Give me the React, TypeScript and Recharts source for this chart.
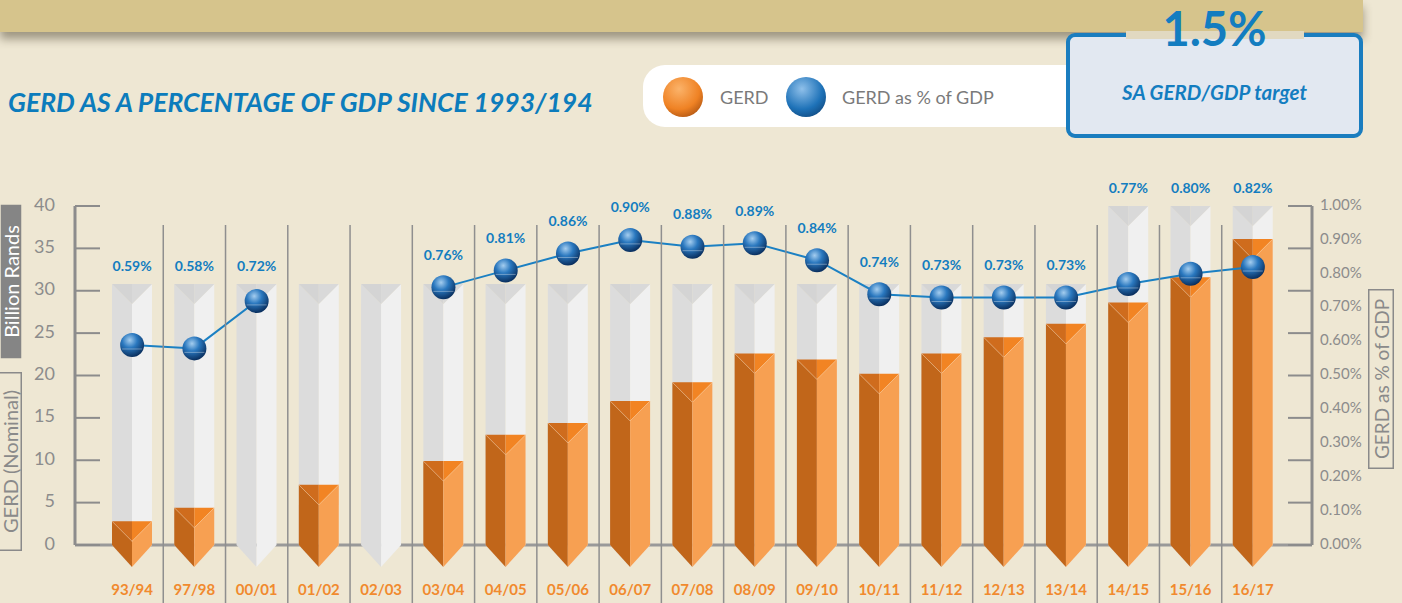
import React from 'react';
import { ComposedChart, Bar, Line, XAxis, YAxis, LabelList } from 'recharts';

// years shown on the x axis
const categories = ['93/94', '97/98', '00/01', '01/02', '02/03', '03/04', '04/05', '05/06', '06/07', '07/08',
  '08/09', '09/10', '10/11', '11/12', '12/13', '13/14', '14/15', '15/16', '16/17'];
// GERD, billion rands (nominal)
const gerd = [2.8, 4.4, null, 7.1, null, 9.9, 13.0, 14.4, 17.0, 19.2, 22.6, 21.9, 20.2, 22.6, 24.5, 26.1, 28.6, 31.6, 36.1];
// GERD as % of GDP
const gerdPct = [0.59, 0.58, 0.72, null, null, 0.76, 0.81, 0.86, 0.90, 0.88, 0.89, 0.84, 0.74, 0.73, 0.73, 0.73, 0.77, 0.80, 0.82];
// grey "empty pencil" behind each bar
const track = [30.8, 30.8, 30.8, 30.8, 30.8, 30.8, 30.8, 30.8, 30.8, 30.8, 30.8, 30.8, 30.8, 30.8, 30.8, 30.8, 40, 40, 40];

const randTicks = [0, 5, 10, 15, 20, 25, 30, 35, 40];
const pctTicks = [0, 0.1, 0.2, 0.3, 0.4, 0.5, 0.6, 0.7, 0.8, 0.9, 1.0];

const data = categories.map((cat, i) => ({ cat, gerd: gerd[i], pct: gerdPct[i], track: track[i] }));

const W = 1402;
const H = 453;
const M_TOP = 56;
const X_H = 58;
const PLOT_H = H - M_TOP - X_H;
const LEFT_W = 75;
const RIGHT_W = 90;
const PLOT_RIGHT = W - RIGHT_W;

const FONT = 'Lato, "Open Sans", sans-serif';
const BG = '#eee7d3';
const AXIS = '#8c8c8c';
const BLUE = '#137dc0';

const prism = (x: number, y: number, w: number, h: number, c: { l: string; r: string; cl: string; cr: string }, line: string) => {
  const cx = x + w / 2;
  const cap = w / 2;
  const tip = w * 0.55;
  const b = y + h;
  return (
    <g>
      <polygon points={`${x},${y} ${cx},${y + cap} ${cx},${b + tip} ${x},${b}`} fill={c.l} />
      <polygon points={`${cx},${y + cap} ${x + w},${y} ${x + w},${b} ${cx},${b + tip}`} fill={c.r} />
      <polygon points={`${x},${y} ${cx},${y} ${cx},${y + cap}`} fill={c.cl} />
      <polygon points={`${cx},${y} ${x + w},${y} ${cx},${y + cap}`} fill={c.cr} />
      <polyline points={`${x},${y} ${cx},${y + cap} ${x + w},${y}`} fill="none" stroke={line} strokeWidth={0.8} />
    </g>
  );
};

const GhostShape = (p: any) => {
  if (p.payload?.track == null) return null;
  return prism(p.x, p.y, p.width, p.height, { l: '#dcdcdc', r: '#f0f0f0', cl: '#d4d4d4', cr: '#d9d9d9' }, 'none');
};

const GerdShape = (p: any) => {
  if (p.payload?.gerd == null) return null;
  return prism(p.x, p.y, p.width, p.height, { l: '#c1661a', r: '#f7a052', cl: '#cf6c1d', cr: '#f28423' }, 'rgba(255,220,180,0.45)');
};

const Sphere = (p: any) => {
  if (p.value == null || p.cx == null || p.cy == null) return null;
  return (
    <g key={`dot-${p.index}`}>
      <circle cx={p.cx} cy={p.cy} r={12} fill="url(#sphereGrad)" />
      <line x1={p.cx - 10} x2={p.cx + 10} y1={p.cy + 4} y2={p.cy + 4} stroke="rgba(255,255,255,0.35)" strokeWidth={1} />
    </g>
  );
};

const PctLabel = (p: any) => {
  if (p.value == null) return null;
  const ghostTop = M_TOP + (1 - track[p.index] / 40) * PLOT_H;
  const ly = Math.min(p.y - 31, ghostTop - 17);
  return (
    <text x={p.x} y={ly} textAnchor="middle" dominantBaseline="middle" fill={BLUE}
      fontFamily={FONT} fontWeight={700} fontSize={14}>
      {p.value.toFixed(2)}%
    </text>
  );
};

const XTick = (p: any) => {
  const half = p.payload?.offset ?? 31;
  return (
    <g>
      {p.index > 0 && (
        <line x1={p.x - half} x2={p.x - half} y1={p.y - 320} y2={p.y + 60} stroke="#8f8f8f" strokeWidth={1.5} />
      )}
      <text x={p.x} y={p.y + 46} textAnchor="middle" dominantBaseline="middle" fill="#f18a2e"
        fontFamily={FONT} fontWeight={700} fontSize={15}>
        {p.payload.value}
      </text>
    </g>
  );
};

const LeftTick = (p: any) => {
  const ax = p.x + 20;
  return (
    <g>
      <line x1={ax} x2={ax + 25} y1={p.y} y2={p.y} stroke={AXIS} strokeWidth={2} />
      <line x1={PLOT_RIGHT - 24} x2={PLOT_RIGHT} y1={p.y} y2={p.y} stroke={AXIS} strokeWidth={2} />
      <text x={p.x} y={p.y} textAnchor="end" dominantBaseline="middle" fill={AXIS} fontFamily={FONT} fontSize={18}>
        {p.payload.value}
      </text>
    </g>
  );
};

const RightTick = (p: any) => (
  <text x={p.x} y={p.y} textAnchor="start" dominantBaseline="middle" fill={AXIS} fontFamily={FONT} fontSize={15}>
    {p.payload.value.toFixed(2)}%
  </text>
);

// rotated axis title in a box
const VBox = ({ left, top, w, h, text, fill, color, size = 20 }: any) => (
  <svg style={{ position: 'absolute', left, top }} width={w} height={h}>
    <rect x={0.75} y={0.75} width={w - 1.5} height={h - 1.5} fill={fill ?? 'none'} stroke={fill ? 'none' : '#8a8a8a'} strokeWidth={1.5} />
    <text x={w / 2} y={h / 2} transform={`rotate(-90 ${w / 2} ${h / 2})`} textAnchor="middle" dominantBaseline="central"
      fill={color} fontFamily={FONT} fontSize={size}>{text}</text>
  </svg>
);

const Ball = ({ left, colors }: { left: number; colors: string[] }) => (
  <div style={{
    position: 'absolute', left, top: 77, width: 40, height: 40, borderRadius: '50%',
    background: `radial-gradient(circle at 40% 30%, ${colors[0]} 0%, ${colors[1]} 55%, ${colors[2]} 100%)`,
  }} />
);

export default function App() {
  return (
    <div style={{ position: 'fixed', left: 0, top: 0, width: W, height: 603, background: BG, overflow: 'hidden', fontFamily: FONT }}>
      <div style={{ position: 'absolute', left: 0, top: 0, width: 1363, height: 32, background: '#d6c48c', boxShadow: '0 7px 10px rgba(60,50,30,0.45)' }} />

      <div style={{ position: 'absolute', left: 8, top: 86, fontSize: 26.5, fontWeight: 700, fontStyle: 'italic', color: '#0c7cbc', whiteSpace: 'nowrap' }}>
        GERD AS A PERCENTAGE OF GDP SINCE 1993/194
      </div>

      <div style={{ position: 'absolute', left: 643, top: 65, width: 460, height: 62, background: '#fff', borderRadius: 22 }} />
      <Ball left={663} colors={['#fbb36a', '#ef8224', '#8c3c08']} />
      <div style={{ position: 'absolute', left: 720, top: 86, fontSize: 18, color: '#7a7a7a' }}>GERD</div>
      <Ball left={786} colors={['#8fc0ea', '#1e72b8', '#0a3563']} />
      <div style={{ position: 'absolute', left: 842, top: 86, fontSize: 18, color: '#7a7a7a' }}>GERD as % of GDP</div>

      <div style={{ position: 'absolute', left: 1066, top: 33, width: 297, height: 105, boxSizing: 'border-box', border: '4px solid #1a7dbf', borderRadius: 9, background: '#e2e8f1' }} />
      <div style={{ position: 'absolute', left: 1126, top: 31, width: 178, height: 8, background: '#e1d9c1' }} />
      <div style={{ position: 'absolute', left: 1066, width: 297, top: 0, textAlign: 'center', fontSize: 47, fontWeight: 700, color: '#137dc0' }}>1.5%</div>
      <div style={{ position: 'absolute', left: 1066, width: 297, top: 80, textAlign: 'center', fontSize: 20.5, fontWeight: 700, fontStyle: 'italic', color: '#137dc0' }}>SA GERD/GDP target</div>

      <VBox left={0} top={204} w={22} h={155} text="Billion Rands" fill="#858585" color="#fff" />
      <VBox left={-2} top={372} w={24} h={179} text="GERD (Nominal)" color="#8a8a8a" />
      <VBox left={1368} top={289} w={26} h={180} text="GERD as % of GDP" color="#8a8a8a" size={19} />

      <div style={{ position: 'absolute', left: 0, top: 150 }}>
        <ComposedChart width={W} height={H} data={data} margin={{ top: M_TOP, right: 0, bottom: 0, left: 0 }}>
          <defs>
            <radialGradient id="sphereGrad" cx="40%" cy="30%" r="70%">
              <stop offset="0%" stopColor="#a4cdef" />
              <stop offset="45%" stopColor="#2a78bf" />
              <stop offset="100%" stopColor="#0a3060" />
            </radialGradient>
          </defs>
          <XAxis xAxisId="main" dataKey="cat" height={X_H} padding={{ left: 26, right: 28 }}
            axisLine={{ stroke: '#999', strokeWidth: 3 }} tickLine={false} tickSize={0} tickMargin={0}
            interval={0} tick={<XTick />} {...({ zIndex: -50 } as any)} />
          <XAxis xAxisId="bg" dataKey="cat" hide height={0} padding={{ left: 26, right: 28 }} />
          <YAxis yAxisId="left" domain={[0, 40]} ticks={randTicks} width={LEFT_W}
            axisLine={{ stroke: AXIS, strokeWidth: 3 }} tickLine={false} tickSize={0} tickMargin={20}
            tick={<LeftTick />} />
          <YAxis yAxisId="pct" orientation="right" domain={[0, 1]} ticks={pctTicks} width={RIGHT_W}
            axisLine={{ stroke: AXIS, strokeWidth: 3 }} tickLine={false} tickSize={0} tickMargin={8}
            tick={<RightTick />} />
          <Bar xAxisId="bg" yAxisId="left" dataKey="track" barSize={40} shape={<GhostShape />} isAnimationActive={false} />
          <Bar xAxisId="main" yAxisId="left" dataKey="gerd" barSize={40} shape={<GerdShape />} isAnimationActive={false} />
          <Line xAxisId="main" yAxisId="pct" dataKey="pct" stroke="#1b80c3" strokeWidth={2} connectNulls={false}
            dot={<Sphere />} activeDot={false} isAnimationActive={false}>
            <LabelList dataKey="pct" content={<PctLabel />} />
          </Line>
        </ComposedChart>
      </div>
    </div>
  );
}
